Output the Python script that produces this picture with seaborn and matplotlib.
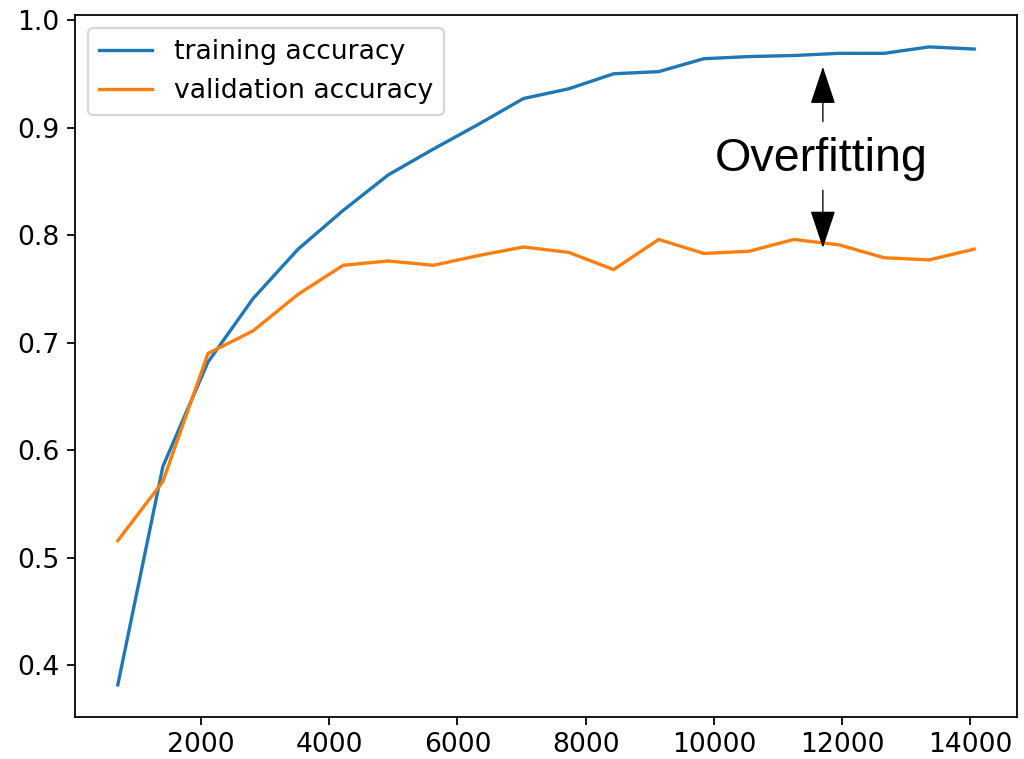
import numpy as np
import pandas as pd
import matplotlib
matplotlib.use("Agg")
import matplotlib.pyplot as plt
import seaborn as sns

# Training progress: evaluation every 703 steps
steps = [703 * k for k in range(1, 21)]
train_acc = [0.382, 0.585, 0.682, 0.741, 0.787, 0.823, 0.856, 0.880, 0.903, 0.927,
             0.936, 0.950, 0.952, 0.964, 0.966, 0.967, 0.969, 0.969, 0.975, 0.973]
val_acc = [0.516, 0.571, 0.690, 0.711, 0.745, 0.772, 0.776, 0.772, 0.781, 0.789,
           0.784, 0.768, 0.796, 0.783, 0.785, 0.796, 0.791, 0.779, 0.777, 0.787]
series_labels = ["training accuracy", "validation accuracy"]
series_colors = ["#1f77b4", "#ff7f0e"]
note_text = "Overfitting"

plt.rcParams["font.size"] = 12

fig = plt.figure(figsize=(6.4, 759 / 160), dpi=160)
ax = fig.add_axes([75 / 1024, 1 - 716.7 / 759, (1017 - 75) / 1024, (716.7 - 15) / 759])

sns.lineplot(x=steps, y=train_acc, ax=ax, color=series_colors[0],
             label=series_labels[0], linewidth=1.5)
sns.lineplot(x=steps, y=val_acc, ax=ax, color=series_colors[1],
             label=series_labels[1], linewidth=1.5)

ax.legend(loc="upper left", fontsize=12)
ax.tick_params(labelsize=12)
ax.set_xlabel("")
ax.set_ylabel("")

# Gap between the two curves
arrow_x = 11700
arrow_kw = dict(arrowstyle="-|>,head_length=1.5,head_width=0.5", color="black",
                lw=0.6, shrinkA=0, shrinkB=0, mutation_scale=10)
ax.annotate("", xy=(arrow_x, 0.9565), xytext=(arrow_x, 0.9056), arrowprops=arrow_kw)
ax.annotate("", xy=(arrow_x, 0.7882), xytext=(arrow_x, 0.8417), arrowprops=arrow_kw)
ax.text(arrow_x - 30, 0.871, note_text, ha="center", va="center",
        fontsize=21, family="Liberation Sans", color="black")

fig.savefig("out.png", dpi=160)
